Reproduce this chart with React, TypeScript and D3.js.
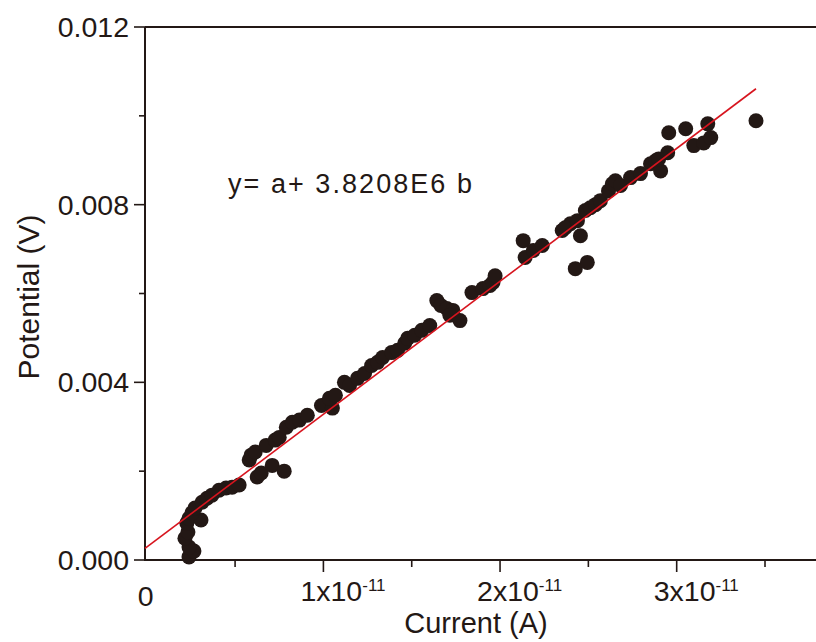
import React, { useEffect, useRef } from 'react'
import * as d3 from 'd3'

// current in units of 1e-11 A
const current = [
  0.239, 0.267, 0.239, 0.216, 0.233, 0.227, 0.239, 0.307, 0.256, 0.273,
  0.313, 0.341, 0.369, 0.409, 0.449, 0.483, 0.523, 0.580, 0.591, 0.614,
  0.625, 0.648, 0.676, 0.710, 0.778, 0.727, 0.750, 0.790, 0.824, 0.864,
  0.909, 0.989, 1.051, 1.034, 1.068, 1.119, 1.148, 1.193, 1.233, 1.273,
  1.307, 1.335, 1.386, 1.420, 1.460, 1.477, 1.517, 1.557, 1.602, 1.642,
  1.665, 1.699, 1.733, 1.716, 1.773, 1.841, 1.903, 1.943, 1.960, 1.972,
  2.131, 2.142, 2.188, 2.239, 2.352, 2.398, 2.455, 2.426, 2.494, 2.369,
  2.438, 2.483, 2.511, 2.540, 2.568, 2.614, 2.636, 2.653, 2.682, 2.739,
  2.795, 2.852, 2.881, 2.909, 2.898, 2.949, 2.955, 3.051, 3.097, 3.153,
  3.193, 3.176, 3.449
]
// potential in V
const potential = [
  0.00007, 0.0002, 0.00029, 0.00049, 0.00063, 0.00083, 0.00094, 0.0009, 0.00106, 0.00117,
  0.0013, 0.00139, 0.00146, 0.00157, 0.00162, 0.00164, 0.00169, 0.00225, 0.00236, 0.00243,
  0.00187, 0.00196, 0.00258, 0.00213, 0.0020, 0.0027, 0.00276, 0.00299, 0.0031, 0.00315,
  0.00326, 0.00348, 0.00342, 0.00364, 0.00371, 0.0040, 0.00393, 0.00409, 0.0042, 0.00438,
  0.00445, 0.00456, 0.00467, 0.00472, 0.00488, 0.00499, 0.00506, 0.00517, 0.00528, 0.00584,
  0.00573, 0.00566, 0.00562, 0.00551, 0.00539, 0.00602, 0.00611, 0.00618, 0.00625, 0.0064,
  0.00719, 0.00681, 0.00697, 0.00708, 0.00742, 0.00757, 0.0073, 0.00656, 0.0067, 0.00748,
  0.00764, 0.00787, 0.00793, 0.0080, 0.00809, 0.00831, 0.00847, 0.00854, 0.00843, 0.00861,
  0.0087, 0.00892, 0.00899, 0.00876, 0.00903, 0.00917, 0.00962, 0.00971, 0.00933, 0.00939,
  0.00951, 0.00982, 0.00989
]

// fitted line endpoints (x in 1e-11 A, y in V)
const fitX = [-0.01, 3.449]
const fitY = [0.00026, 0.01061]

const yMajor = [0, 0.004, 0.008, 0.012]
const yMinor = [0.002, 0.006, 0.010]
const xMajor = [1, 2, 3]
const xMinor = [0.5, 1.5, 2.5, 3.5]

const ink = '#231815'
const font = 'Liberation Sans, Arial, sans-serif'

const App = () => {
  const ref = useRef<SVGSVGElement>(null)

  useEffect(() => {
    const svg = d3.select(ref.current)
    svg.selectAll('*').remove()

    const left = 145, right = 818, top = 27, bottom = 560

    const x = d3.scaleLinear().domain([-0.01, 3.8]).range([left, right])
    const y = d3.scaleLinear().domain([0, 0.012]).range([bottom, top])

    // frame: left axis, top line, bottom axis
    svg.append('line').attr('x1', left).attr('x2', left).attr('y1', top).attr('y2', bottom)
      .attr('stroke', ink).attr('stroke-width', 2)
    svg.append('line').attr('x1', left).attr('x2', right).attr('y1', top).attr('y2', top)
      .attr('stroke', ink).attr('stroke-width', 2)
    svg.append('line').attr('x1', left - 1).attr('x2', right).attr('y1', bottom).attr('y2', bottom)
      .attr('stroke', ink).attr('stroke-width', 2)

    // y ticks
    svg.selectAll('.ymaj').data(yMajor).enter().append('line')
      .attr('x1', left - 11).attr('x2', left).attr('y1', d => y(d)).attr('y2', d => y(d))
      .attr('stroke', ink).attr('stroke-width', 1.6)
    svg.selectAll('.ymin').data(yMinor).enter().append('line')
      .attr('x1', left - 6).attr('x2', left).attr('y1', d => y(d)).attr('y2', d => y(d))
      .attr('stroke', ink).attr('stroke-width', 1.6)
    svg.selectAll('.ylab').data(yMajor).enter().append('text')
      .attr('x', 129).attr('y', d => y(d) + 10)
      .attr('text-anchor', 'end')
      .style('font-family', font).style('font-size', '28.5px').attr('fill', ink)
      .text(d => d3.format('.3f')(d))

    // x ticks
    svg.selectAll('.xmaj').data(xMajor).enter().append('line')
      .attr('x1', d => x(d)).attr('x2', d => x(d)).attr('y1', bottom).attr('y2', bottom + 12)
      .attr('stroke', ink).attr('stroke-width', 1.6)
    svg.selectAll('.xmin').data(xMinor).enter().append('line')
      .attr('x1', d => x(d)).attr('x2', d => x(d)).attr('y1', bottom).attr('y2', bottom + 7)
      .attr('stroke', ink).attr('stroke-width', 1.6)
    svg.append('text').attr('x', x(0) - 1).attr('y', 606).attr('text-anchor', 'middle')
      .style('font-family', font).style('font-size', '28.5px').attr('fill', ink).text('0')
    const xl = svg.selectAll('.xlab').data(xMajor).enter().append('text')
      .attr('x', d => x(d) - 23).attr('y', 601)
      .style('font-family', font).style('font-size', '28.5px').attr('fill', ink)
    xl.append('tspan').text(d => d + 'x10')
    xl.append('tspan').attr('dy', -10).style('font-size', '17px').text('-11')

    // axis titles
    svg.append('text').attr('x', 476).attr('y', 633).attr('text-anchor', 'middle')
      .style('font-family', font).style('font-size', '29px').attr('fill', ink)
      .text('Current (A)')
    svg.append('text').attr('transform', 'translate(39,297) rotate(-90)')
      .attr('text-anchor', 'middle')
      .style('font-family', font).style('font-size', '30px').attr('fill', ink)
      .text('Potential (V)')

    // equation
    svg.append('text').attr('x', 228).attr('y', 193)
      .attr('textLength', 244).attr('lengthAdjust', 'spacing')
      .style('font-family', font).style('font-size', '27px').attr('fill', ink)
      .text('y= a+ 3.8208E6 b')

    // points
    svg.append('g').selectAll('circle').data(current).enter().append('circle')
      .attr('cx', d => x(d)).attr('cy', (d, i) => y(potential[i]))
      .attr('r', 7.5).attr('fill', ink)

    // fit line
    const line = d3.line<number>().x(d => x(d)).y((d, i) => y(fitY[i]))
    svg.append('path').datum(fitX).attr('d', line)
      .attr('fill', 'none').attr('stroke', '#d7141e').attr('stroke-width', 1.6)
  }, [])

  return (
    <svg ref={ref} width={816} height={642}
      style={{ position: 'absolute', left: 0, top: 0, background: '#fff' }} />
  )
}
export default App
